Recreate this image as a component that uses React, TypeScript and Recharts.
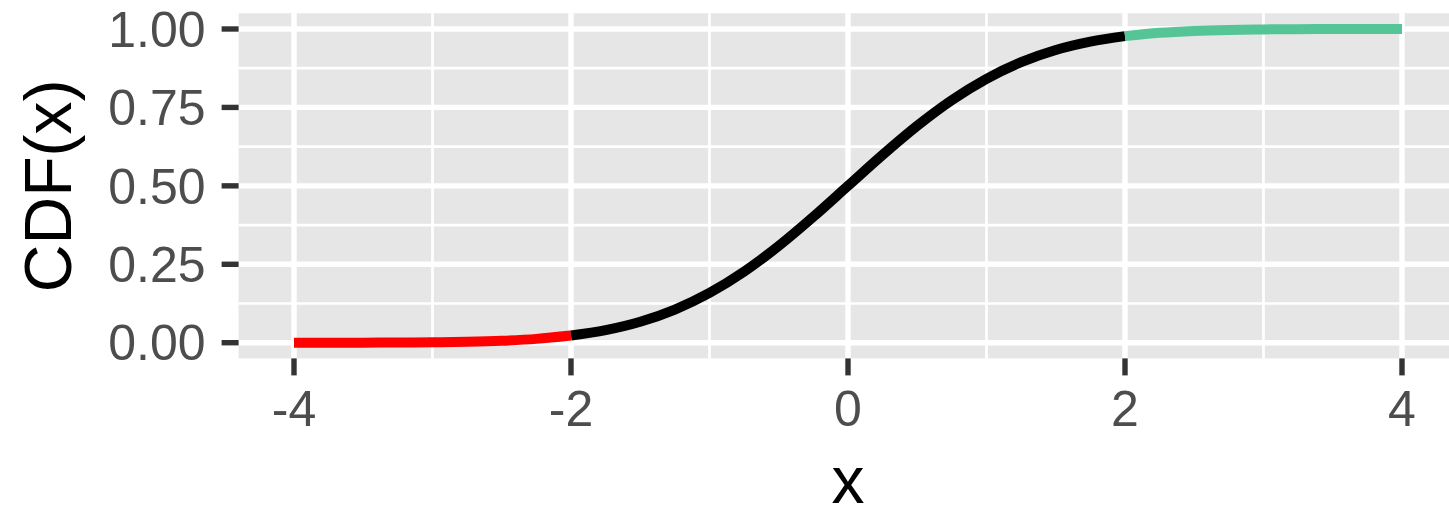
import { LineChart, Line, XAxis, YAxis, CartesianGrid } from 'recharts';

// x positions where the curve was read, and CDF(x)
const xs = [
  -4, -3.75, -3.5, -3.25, -3, -2.75, -2.5, -2.25, -2, -1.75, -1.5, -1.25, -1, -0.75, -0.5, -0.25,
  0, 0.25, 0.5, 0.75, 1, 1.25, 1.5, 1.75, 2, 2.25, 2.5, 2.75, 3, 3.25, 3.5, 3.75, 4,
];
const cdf = [
  0.00003, 0.0001, 0.0002, 0.0006, 0.0013, 0.003, 0.0062, 0.0122, 0.0228, 0.0401, 0.0668, 0.1056,
  0.1587, 0.2266, 0.3085, 0.4013, 0.5, 0.5987, 0.6915, 0.7734, 0.8413, 0.8944, 0.9332, 0.9599,
  0.9772, 0.9878, 0.9938, 0.997, 0.9987, 0.9994, 0.9998, 0.9999, 1.0,
];

// where the colour changes
const lowerCut = -2;
const upperCut = 2;

const xTicks = [-4, -2, 0, 2, 4];
const xMinor = [-3, -1, 1, 3];
const yTicks = [0, 0.25, 0.5, 0.75, 1];
const yMinor = [0.125, 0.375, 0.625, 0.875];

const data = xs.map((x, i) => ({
  x,
  lower: x <= lowerCut ? cdf[i] : null,
  middle: x >= lowerCut && x <= upperCut ? cdf[i] : null,
  upper: x >= upperCut ? cdf[i] : null,
}));

const FONT = '"Liberation Sans", Arial, Helvetica, sans-serif';
const TICK_COLOR = '#333333';

export default function App() {
  return (
    <div
      style={{
        position: 'absolute',
        left: 0,
        top: 0,
        width: 1449,
        height: 507,
        overflow: 'hidden',
        background: '#ffffff',
      }}
    >
      <LineChart
        width={1470}
        height={507}
        data={data}
        margin={{ top: 13.3, right: 12.6, bottom: 0, left: 0 }}
        style={{ fontFamily: FONT }}
      >
        {/* panel background + minor grid */}
        <CartesianGrid
          fill="#E6E6E6"
          stroke="#ffffff"
          strokeWidth={2.7}
          horizontalValues={yMinor}
          verticalValues={xMinor}
        />
        {/* major grid */}
        <CartesianGrid
          stroke="#ffffff"
          strokeWidth={5.4}
          horizontalValues={yTicks}
          verticalValues={xTicks}
        />

        <XAxis
          dataKey="x"
          type="number"
          domain={[-4.4, 4.4]}
          ticks={xTicks}
          height={148.6}
          axisLine={false}
          tickSize={17}
          tickMargin={15}
          tickLine={{ stroke: TICK_COLOR, strokeWidth: 5.4 }}
          tick={{ fill: '#4D4D4D', fontSize: 50, fontFamily: FONT }}
          label={{ value: 'x', position: 'insideBottom', offset: 4, fill: '#000000', fontSize: 66, fontFamily: FONT }}
        />
        <YAxis
          type="number"
          domain={[-0.05, 1.05]}
          ticks={yTicks}
          width={238.6}
          axisLine={false}
          tickSize={17}
          tickMargin={16}
          tickLine={{ stroke: TICK_COLOR, strokeWidth: 5.4 }}
          tickFormatter={(v: number) => v.toFixed(2)}
          tick={{ fill: '#4D4D4D', fontSize: 50, fontFamily: FONT }}
          label={{
            value: 'CDF(x)',
            angle: -90,
            position: 'insideLeft',
            offset: 48,
            fill: '#000000',
            fontSize: 66,
            fontFamily: FONT,
            style: { textAnchor: 'middle' },
          }}
        />

        <Line type="monotone" dataKey="lower" stroke="#FF0000" strokeWidth={10} dot={false} isAnimationActive={false} />
        <Line type="monotone" dataKey="middle" stroke="#000000" strokeWidth={10} dot={false} isAnimationActive={false} />
        <Line type="monotone" dataKey="upper" stroke="#55C598" strokeWidth={10} dot={false} isAnimationActive={false} />
      </LineChart>
    </div>
  );
}
